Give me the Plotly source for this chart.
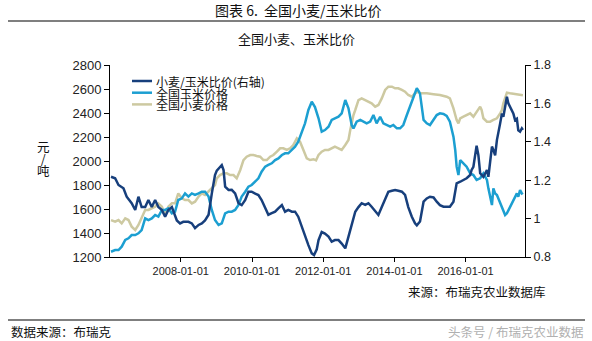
import pandas as pd
import plotly.graph_objects as go

# ---- data (x as decimal years) ----
ratio_t = [2006.04, 2006.155, 2006.25, 2006.39, 2006.48, 2006.62, 2006.72, 2006.81, 2006.90, 2007.0,
           2007.09, 2007.185, 2007.28, 2007.37, 2007.47, 2007.56, 2007.65, 2007.75, 2007.89, 2007.98,
           2008.07, 2008.215, 2008.31, 2008.40, 2008.50, 2008.59, 2008.68, 2008.78, 2008.87, 2008.96,
           2009.01, 2009.15, 2009.20, 2009.245, 2009.34, 2009.43, 2009.525, 2009.62, 2009.71, 2009.81,
           2009.90, 2009.99, 2010.09, 2010.18, 2010.27, 2010.37, 2010.46, 2010.555, 2010.65, 2010.74,
           2010.84, 2010.93, 2011.02, 2011.12, 2011.21, 2011.30, 2011.40, 2011.49, 2011.585, 2011.68,
           2011.744, 2011.82, 2011.87, 2011.96, 2012.05, 2012.15, 2012.24, 2012.33, 2012.43, 2012.52,
           2012.62, 2012.71, 2012.80, 2012.90, 2012.99, 2013.08, 2013.18, 2013.27, 2013.36, 2013.46,
           2013.55, 2013.645, 2013.74, 2013.83, 2013.93, 2014.02, 2014.11, 2014.21, 2014.30, 2014.39,
           2014.49, 2014.58, 2014.63, 2014.72, 2014.82, 2014.91, 2015.0, 2015.10, 2015.19, 2015.28,
           2015.38, 2015.47, 2015.56, 2015.66, 2015.71, 2015.75, 2015.85, 2015.94, 2016.03, 2016.13,
           2016.17, 2016.22, 2016.27, 2016.31, 2016.36, 2016.41, 2016.50, 2016.60, 2016.64, 2016.69,
           2016.74, 2016.78, 2016.83, 2016.88, 2016.92, 2016.97, 2017.02, 2017.06, 2017.11, 2017.16,
           2017.20, 2017.25, 2017.34, 2017.39, 2017.44, 2017.48, 2017.53, 2017.58, 2017.61]
ratio_v = [1.218, 1.21, 1.175, 1.158, 1.114, 1.08, 1.045, 1.114, 1.06, 1.06,
           1.097, 1.06, 1.097, 1.06, 1.045, 1.01, 1.045, 1.06, 0.99, 0.975,
           0.983, 0.983, 0.975, 0.95, 0.967, 0.975, 0.99, 1.02, 1.13, 1.227,
           1.25, 1.279, 1.253, 1.166, 1.149, 1.15, 1.131, 1.08, 1.07, 1.097,
           1.14, 1.14, 1.13, 1.123, 1.097, 1.06, 1.02, 1.028, 1.036, 1.053,
           1.07, 1.036, 1.045, 1.036, 1.036, 1.01, 0.958, 0.906, 0.862, 0.819,
           0.81, 0.84, 0.888, 0.93, 0.922, 0.906, 0.88, 0.888, 0.888, 0.87,
           0.845, 0.906, 0.975, 1.036, 1.06, 1.08, 1.071, 1.08, 1.062, 1.036,
           1.019, 1.06, 1.097, 1.14, 1.145, 1.149, 1.145, 1.14, 1.123, 1.06,
           1.01, 0.975, 0.965, 0.985, 1.088, 1.105, 1.114, 1.11, 1.088, 1.07,
           1.062, 1.062, 1.062, 1.088, 1.149, 1.184, 1.192, 1.2, 1.21, 1.227,
           1.253, 1.27, 1.33, 1.38, 1.33, 1.236, 1.218, 1.253, 1.218, 1.305,
           1.375, 1.357, 1.33, 1.41, 1.444, 1.496, 1.548, 1.53, 1.583, 1.635,
           1.6, 1.583, 1.548, 1.513, 1.52, 1.46, 1.453, 1.47, 1.462]

corn_t = [2006.04, 2006.155, 2006.25, 2006.34, 2006.44, 2006.53, 2006.62, 2006.72, 2006.81, 2006.90,
          2007.0, 2007.09, 2007.185, 2007.28, 2007.37, 2007.47, 2007.56, 2007.65, 2007.75, 2007.84,
          2007.93, 2008.03, 2008.12, 2008.215, 2008.31, 2008.40, 2008.50, 2008.59, 2008.68, 2008.78,
          2008.87, 2008.96, 2009.06, 2009.15, 2009.245, 2009.34, 2009.43, 2009.525, 2009.62, 2009.71,
          2009.81, 2009.90, 2009.99, 2010.09, 2010.18, 2010.27, 2010.37, 2010.46, 2010.555, 2010.65,
          2010.74, 2010.84, 2010.93, 2011.02, 2011.12, 2011.21, 2011.30, 2011.40, 2011.49, 2011.585,
          2011.68, 2011.77, 2011.87, 2011.96, 2012.05, 2012.15, 2012.24, 2012.33, 2012.43, 2012.52,
          2012.62, 2012.71, 2012.80, 2012.85, 2012.94, 2013.04, 2013.13, 2013.22, 2013.32, 2013.41,
          2013.50, 2013.60, 2013.69, 2013.79, 2013.88, 2013.97, 2014.07, 2014.16, 2014.25, 2014.35,
          2014.44, 2014.53, 2014.63, 2014.69, 2014.72, 2014.82, 2014.91, 2015.0, 2015.10, 2015.19,
          2015.28, 2015.38, 2015.47, 2015.56, 2015.66, 2015.71, 2015.75, 2015.80, 2015.85, 2015.94,
          2016.03, 2016.13, 2016.22, 2016.31, 2016.41, 2016.50, 2016.60, 2016.64, 2016.69, 2016.74,
          2016.78, 2016.83, 2016.88, 2016.97, 2017.06, 2017.11, 2017.16, 2017.25, 2017.34, 2017.44,
          2017.48, 2017.53, 2017.58, 2017.61]
corn_v = [1244, 1258, 1258, 1286, 1342, 1356, 1383, 1383, 1397, 1425,
          1522, 1508, 1522, 1550, 1536, 1592, 1592, 1606, 1564, 1578,
          1675, 1689, 1730, 1703, 1730, 1717, 1730, 1744, 1744, 1703,
          1592, 1508, 1467, 1480, 1564, 1578, 1578, 1592, 1633, 1703,
          1744, 1786, 1800, 1828, 1856, 1911, 1953, 1967, 1981, 2008,
          2022, 2050, 2064, 2064, 2092, 2119, 2161, 2244, 2314, 2425,
          2494, 2450, 2356, 2244, 2258, 2286, 2342, 2356, 2369, 2397,
          2508, 2439, 2300, 2272, 2328, 2342, 2328, 2314, 2328, 2383,
          2314, 2369, 2314, 2300, 2286, 2300, 2272, 2272, 2300, 2383,
          2453, 2536, 2606, 2578, 2560, 2342, 2314, 2300, 2342, 2383,
          2397, 2392, 2375, 2328, 2203, 2092, 1953, 1883, 2008, 1981,
          1953, 1897, 1883, 1842, 1856, 1897, 1842, 1772, 1703, 1633,
          1772, 1730, 1717, 1647, 1592, 1550, 1564, 1620, 1675, 1730,
          1703, 1758, 1730, 1736]

wheat_t = [2006.04, 2006.155, 2006.25, 2006.34, 2006.44, 2006.53, 2006.62, 2006.72, 2006.81, 2006.90,
           2007.0, 2007.09, 2007.185, 2007.28, 2007.37, 2007.47, 2007.56, 2007.65, 2007.75, 2007.84,
           2007.93, 2008.03, 2008.12, 2008.215, 2008.31, 2008.40, 2008.50, 2008.59, 2008.68, 2008.78,
           2008.87, 2008.96, 2009.01, 2009.10, 2009.20, 2009.29, 2009.385, 2009.48, 2009.57, 2009.67,
           2009.76, 2009.85, 2009.95, 2010.04, 2010.13, 2010.23, 2010.32, 2010.415, 2010.51, 2010.60,
           2010.70, 2010.79, 2010.88, 2010.98, 2011.07, 2011.16, 2011.26, 2011.35, 2011.445, 2011.54,
           2011.63, 2011.73, 2011.80, 2011.87, 2011.96, 2012.05, 2012.15, 2012.24, 2012.33, 2012.43,
           2012.52, 2012.62, 2012.71, 2012.76, 2012.80, 2012.85, 2012.90, 2012.99, 2013.08, 2013.18,
           2013.27, 2013.36, 2013.46, 2013.55, 2013.645, 2013.74, 2013.83, 2013.93, 2014.02, 2014.11,
           2014.21, 2014.30, 2014.39, 2014.49, 2014.58, 2014.67, 2014.72, 2014.91, 2015.10, 2015.28,
           2015.47, 2015.56, 2015.66, 2015.75, 2015.80, 2015.85, 2015.94, 2016.03, 2016.13, 2016.22,
           2016.31, 2016.41, 2016.45, 2016.50, 2016.60, 2016.69, 2016.78, 2016.88, 2016.97, 2017.02,
           2017.06, 2017.11, 2017.16, 2017.25, 2017.34, 2017.44, 2017.53, 2017.61]
wheat_v = [1508, 1494, 1508, 1480, 1522, 1508, 1453, 1425, 1467, 1522,
           1592, 1592, 1606, 1620, 1647, 1620, 1550, 1620, 1647, 1647,
           1730, 1689, 1675, 1675, 1647, 1661, 1703, 1730, 1717, 1744,
           1772, 1800, 1856, 1883, 1897, 1897, 1883, 1883, 1856, 1925,
           2008, 2036, 2050, 2050, 2042, 2036, 2008, 2008, 2036, 2050,
           2078, 2106, 2106, 2092, 2106, 2133, 2189, 2161, 2092, 2022,
           2008, 2015, 2005, 2050, 2078, 2092, 2092, 2106, 2119, 2106,
           2092, 2133, 2175, 2258, 2328, 2383, 2425, 2508, 2522, 2508,
           2494, 2481, 2453, 2467, 2522, 2592, 2619, 2619, 2606, 2606,
           2592, 2578, 2550, 2536, 2564, 2578, 2564, 2564, 2557, 2550,
           2536, 2522, 2439, 2342, 2314, 2356, 2369, 2383, 2397, 2369,
           2411, 2453, 2425, 2356, 2328, 2328, 2342, 2356, 2397, 2425,
           2481, 2536, 2569, 2564, 2560, 2550, 2548, 2548]

names = ["小麦/玉米比价(右轴)", "全国玉米价格", "全国小麦价格"]
colors = ["#173f7c", "#1c9fd1", "#cdc9a1"]
y_left_ticks = [1200, 1400, 1600, 1800, 2000, 2200, 2400, 2600, 2800]
y_right_ticks = [0.8, 1.0, 1.2, 1.4, 1.6, 1.8]
y_right_labels = ["0.8", "1", "1.2", "1.4", "1.6", "1.8"]
unit_chars = ["元", "/", "吨"]

W, H = 592, 341
ML, MR, MT, MB = 110, 67, 65, 84
PW, PH = W - ML - MR, H - MT - MB


def px(x):
    return (x - ML) / PW


def py(y):
    return (H - MB - y) / PH


def to_dates(dec_years):
    out = []
    for d in dec_years:
        y = int(d)
        start = pd.Timestamp(year=y, month=1, day=1)
        end = pd.Timestamp(year=y + 1, month=1, day=1)
        out.append(start + (end - start) * (d - y))
    return out


fig = go.Figure()
fig.add_trace(go.Scatter(x=to_dates(wheat_t), y=wheat_v, name=names[2], mode="lines",
                         line=dict(color=colors[2], width=2.5)))
fig.add_trace(go.Scatter(x=to_dates(corn_t), y=corn_v, name=names[1], mode="lines",
                         line=dict(color=colors[1], width=2.5)))
fig.add_trace(go.Scatter(x=to_dates(ratio_t), y=ratio_v, name=names[0], mode="lines",
                         line=dict(color=colors[0], width=2.5), yaxis="y2"))

sans = "Liberation Sans, Arial, sans-serif"
cjk = "Noto Sans CJK SC"

fig.update_layout(
    width=W, height=H,
    margin=dict(l=ML, r=MR, t=MT, b=MB),
    paper_bgcolor="white", plot_bgcolor="white",
    showlegend=False,
    xaxis=dict(type="date", range=["2006-01-05", "2017-09-02"],
               tick0="2008-01-01", dtick="M24", tickformat="%Y-%m-%d",
               showgrid=False, zeroline=False, showline=True, linecolor="black", linewidth=1,
               ticks="outside", ticklen=4, tickcolor="black",
               tickfont=dict(family=sans, size=11, color="#222")),
    yaxis=dict(range=[1200, 2800], tickvals=y_left_ticks, showgrid=False, zeroline=False,
               showline=True, linecolor="black", linewidth=1, ticks="outside", ticklen=5,
               tickcolor="black", tickfont=dict(family=sans, size=13, color="#222")),
    yaxis2=dict(range=[0.8, 1.8], tickvals=y_right_ticks, ticktext=y_right_labels,
                overlaying="y", side="right", showgrid=False, zeroline=False,
                showline=True, linecolor="black", linewidth=1, ticks="outside", ticklen=5,
                tickcolor="black", tickfont=dict(family=sans, size=12.5, color="#222")),
)

# titles / notes
notes = [
    ("图表 6.\u00a0\u00a0全国小麦/玉米比价", 298, 10, "center", 14, "#111"),
    ("全国小麦、玉米比价", 296, 38, "center", 13, "#111"),
    ("来源：布瑞克农业数据库", 406, 291, "left", 12.5, "#111"),
    ("数据来源：布瑞克", 9, 331, "left", 12.5, "#111"),
    ("头条号 / 布瑞克农业数据", 586, 331, "right", 12.5, "#b0b0b0"),
]
for text, x, y, anchor, size, col in notes:
    fig.add_annotation(text=text, x=px(x), y=py(y), xref="paper", yref="paper",
                       showarrow=False, xanchor=anchor, yanchor="middle",
                       font=dict(family=cjk, size=size, color=col))

# y-axis unit, stacked vertically (small base size sets compact line spacing)
unit_text = "<br>".join('<span style="font-size:12.5px">%s</span>' % c for c in unit_chars)
fig.add_annotation(text=unit_text, x=px(43), y=py(158), xref="paper", yref="paper",
                   showarrow=False, xanchor="center", yanchor="middle",
                   font=dict(family=cjk, size=9.3, color="#111"))

# legend (manual, to match compact spacing)
for i, col in enumerate(colors):
    yy = 81 + i * 11.7
    fig.add_shape(type="line", xref="paper", yref="paper", x0=px(132), x1=px(152),
                  y0=py(yy), y1=py(yy), line=dict(color=col, width=2.5))
legend_text = "<br>".join('<span style="font-size:12px">%s</span>' % n for n in names)
fig.add_annotation(text=legend_text, x=px(154), y=py(81 + 11.7), xref="paper", yref="paper",
                   showarrow=False, xanchor="left", yanchor="middle", align="left",
                   font=dict(family=cjk, size=9, color="#111"))

# rules
for yy in (21, 320):
    fig.add_shape(type="line", xref="paper", yref="paper", x0=px(8), x1=px(585),
                  y0=py(yy), y1=py(yy), line=dict(color="black", width=1.2))

fig.write_html("out.html")
